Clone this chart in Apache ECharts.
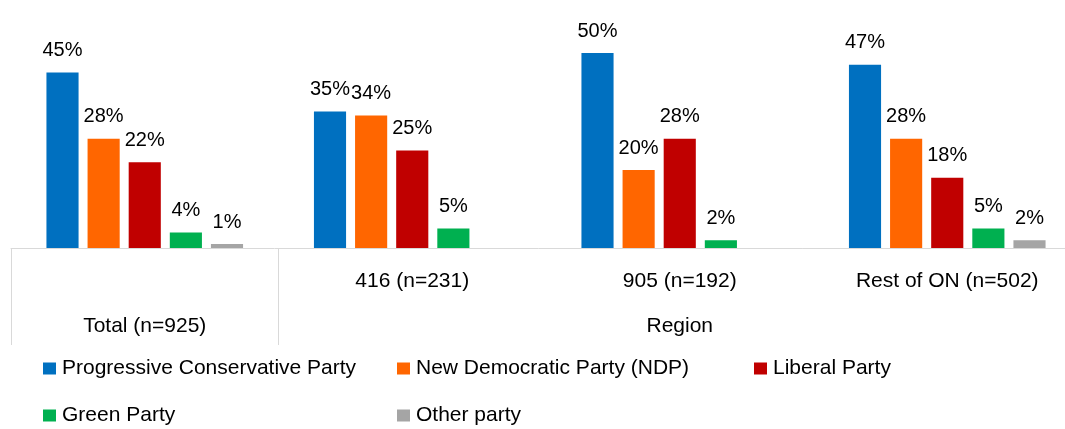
<!DOCTYPE html>
<html>
<head>
<meta charset="utf-8">
<script src="https://cdn.jsdelivr.net/npm/echarts@6/dist/echarts.min.js"></script>
<style>
  html, body { margin: 0; padding: 0; background: #fff; }
  #chart { width: 1065px; height: 429px; }
</style>
</head>
<body>
<div id="chart"></div>
<script>
var categories = ['Total (n=925)', '416 (n=231)', '905 (n=192)', 'Rest of ON (n=502)'];
var innerLabels = ['', '416 (n=231)', '905 (n=192)', 'Rest of ON (n=502)'];
var outerLabels = ['Total (n=925)', ' ', 'Region', '  '];
var parties = ['Progressive Conservative Party', 'New Democratic Party (NDP)', 'Liberal Party', 'Green Party', 'Other party'];
var pcValues = [45, 35, 50, 47];
var ndpValues = [28, 34, 20, 28];
var liberalValues = [22, 25, 28, 18];
var greenValues = [4, 5, 2, 5];
var otherValues = [1, null, null, 2];
var colors = ['#0070c0', '#ff6600', '#c00000', '#00b050', '#a5a5a5'];

var font = 'Liberation Sans';
var chart = echarts.init(document.getElementById('chart'));

function bar(name, values) {
    return {
        name: name,
        type: 'bar',
        data: values,
        barGap: '28%',
        barCategoryGap: '26.5%',
        label: {
            show: true,
            position: 'top',
            distance: 12,
            formatter: function (p) { return p.value == null ? '' : p.value + '%'; },
            color: '#000',
            fontFamily: font,
            fontSize: 20
        }
    };
}

function legendCol(left, names) {
    return {
        orient: 'vertical',
        left: left,
        top: 358,
        padding: 0,
        itemGap: 26,
        icon: 'rect',
        itemWidth: 13,
        itemHeight: 12,
        data: names,
        textStyle: { color: '#000', fontFamily: font, fontSize: 21, padding: [0, 0, 0, 1] }
    };
}

var option = {
    animation: false,
    color: colors,
    // grid runs a bit past the right edge, like the original
    grid: { left: 11, width: 1070, top: 14, height: 234, outerBoundsMode: 'none', containLabel: false },
    legend: [
        legendCol(43, [parties[0], parties[3]]),
        legendCol(397, [parties[1], parties[4]]),
        legendCol(754, [parties[2]])
    ],
    xAxis: [{
        type: 'category',
        data: innerLabels,
        axisLine: { lineStyle: { color: '#d9d9d9', width: 1 } },
        axisTick: {
            show: true,
            length: 97,
            lineStyle: { color: '#d9d9d9' },
            interval: function (index) { return index <= 1; }
        },
        axisLabel: { color: '#000', fontFamily: font, fontSize: 21, margin: 23 }
    }, {
        type: 'category',
        data: outerLabels,
        position: 'bottom',
        offset: 45,
        axisLine: { show: false },
        axisTick: { show: false },
        axisLabel: { color: '#000', fontFamily: font, fontSize: 21, margin: 23 }
    }],
    yAxis: { type: 'value', min: 0, max: 60, show: false, splitLine: { show: false } },
    series: [
        bar(parties[0], pcValues),
        bar(parties[1], ndpValues),
        bar(parties[2], liberalValues),
        bar(parties[3], greenValues),
        bar(parties[4], otherValues)
    ]
};
chart.setOption(option);
</script>
</body>
</html>
